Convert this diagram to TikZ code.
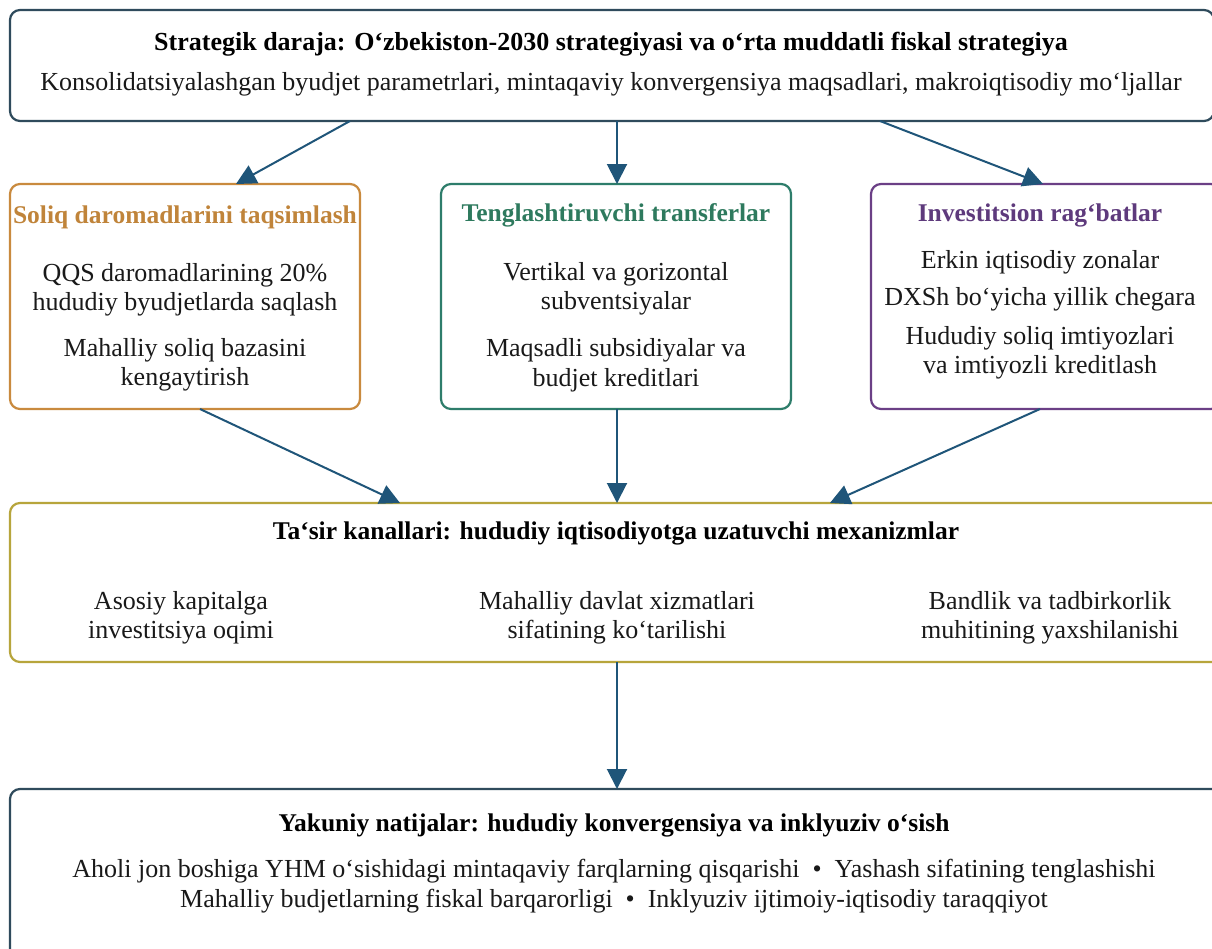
\documentclass[tikz,border=0pt]{standalone}
\usepackage{fontspec}
\setmainfont{Liberation Serif}
\usetikzlibrary{arrows.meta,calc}
\definecolor{slate}{HTML}{2F4B5C}
\definecolor{arrowc}{HTML}{1F5579}
\definecolor{orangec}{HTML}{C98A3E}
\definecolor{oranget}{HTML}{C0843A}
\definecolor{greenc}{HTML}{2E7D6B}
\definecolor{greent}{HTML}{2E7A5E}
\definecolor{purplec}{HTML}{6B3F86}
\definecolor{purplet}{HTML}{5E3A7C}
\definecolor{olivec}{HTML}{B7A53C}
\begin{document}
\begin{tikzpicture}[x=1pt,y=-1pt,
  box/.style={draw, rounded corners=10pt, line width=2.2pt, fill=white, inner sep=0pt, outer sep=0pt},
  txt/.style={font=\fontsize{26}{29.5}\selectfont, align=center, inner sep=0pt, text=black!90},
  ttl/.style={font=\fontsize{25.5}{29.5}\selectfont\bfseries, align=center, inner sep=0pt},
  arr/.style={draw=arrowc, line width=2pt, -{Triangle[length=20pt,width=20pt]}}]
\path[use as bounding box, fill=white] (0,0) rectangle (1212,948);
\clip (0,0) rectangle (1212,948);
% boxes
\node[box, draw=slate, minimum width=1204pt, minimum height=111pt] (top) at (612,65.5) {};
\node[box, draw=orangec, minimum width=350pt, minimum height=225pt] (soliq) at (185,296.5) {};
\node[box, draw=greenc, minimum width=350pt, minimum height=225pt] (teng) at (616,296.5) {};
\node[box, draw=purplec, minimum width=350pt, minimum height=225pt] (inv) at (1046,296.5) {};
\node[box, draw=olivec, minimum width=1212pt, minimum height=159pt] (chan) at (616,582.5) {};
\node[box, draw=slate, minimum width=1212pt, minimum height=171pt] (res) at (616,874.5) {};
% top texts
\node[ttl, font=\fontsize{26}{29.5}\selectfont\bfseries] (topT) at (611,44) {Strategik daraja: O‘zbekiston-2030 strategiyasi va o‘rta muddatli fiskal strategiya};
\node[txt] (topS) at (611,84) {Konsolidatsiyalashgan byudjet parametrlari, mintaqaviy konvergensiya maqsadlari, makroiqtisodiy mo‘ljallar};
% left box
\node[ttl, text=oranget] (soliqT) at (185,217) {Soliq daromadlarini taqsimlash};
\node[txt] (soliq1) at (185,290) {QQS daromadlarining 20\%\\hududiy byudjetlarda saqlash};
\node[txt] (soliq2) at (185,365) {Mahalliy soliq bazasini\\kengaytirish};
% middle box
\node[ttl, text=greent] (tengT) at (616,215) {Tenglashtiruvchi transferlar};
\node[txt] (teng1) at (616,289) {Vertikal va gorizontal\\subventsiyalar};
\node[txt] (teng2) at (616,365) {Maqsadli subsidiyalar va\\budjet kreditlari};
% right box
\node[ttl, text=purplet] (invT) at (1040,215) {Investitsion rag‘batlar};
\node[txt] (inv1) at (1040,262) {Erkin iqtisodiy zonalar};
\node[txt] (inv2) at (1040,299) {DXSh bo‘yicha yillik chegara};
\node[txt] (inv3) at (1040,353) {Hududiy soliq imtiyozlari\\va imtiyozli kreditlash};
% channels
\node[ttl] (chanT) at (616,533) {Ta‘sir kanallari: hududiy iqtisodiyotga uzatuvchi mexanizmlar};
\node[txt] (chan1) at (181,618) {Asosiy kapitalga\\investitsiya oqimi};
\node[txt] (chan2) at (617,618) {Mahalliy davlat xizmatlari\\sifatining ko‘tarilishi};
\node[txt] (chan3) at (1050,618) {Bandlik va tadbirkorlik\\muhitining yaxshilanishi};
% results
\node[ttl] (resT) at (614,825) {Yakuniy natijalar: hududiy konvergensiya va inklyuziv o‘sish};
\node[txt] (res1) at (614,871) {Aholi jon boshiga YHM o‘sishidagi mintaqaviy farqlarning qisqarishi\enspace•\enspace Yashash sifatining tenglashishi};
\node[txt] (res2) at (614,901) {Mahalliy budjetlarning fiskal barqarorligi\enspace•\enspace Inklyuziv ijtimoiy-iqtisodiy taraqqiyot};
% arrow coordinates
\coordinate (a1s) at (350,121);
\coordinate (a1e) at (236,184);
\coordinate (a2s) at (617,121);
\coordinate (a2e) at (617,184);
\coordinate (a3s) at (880,121);
\coordinate (a3e) at (1043,184);
\coordinate (b1s) at (200,409);
\coordinate (b1e) at (400,503);
\coordinate (b2s) at (617,409);
\coordinate (b2e) at (617,503);
\coordinate (b3s) at (1040,409);
\coordinate (b3e) at (830,503);
\coordinate (c1s) at (617,662);
\coordinate (c1e) at (617,789);
\draw[arr] (a1s) -- (a1e);
\draw[arr] (a2s) -- (a2e);
\draw[arr] (a3s) -- (a3e);
\draw[arr] (b1s) -- (b1e);
\draw[arr] (b2s) -- (b2e);
\draw[arr] (b3s) -- (b3e);
\draw[arr] (c1s) -- (c1e);
\end{tikzpicture}
\end{document}
